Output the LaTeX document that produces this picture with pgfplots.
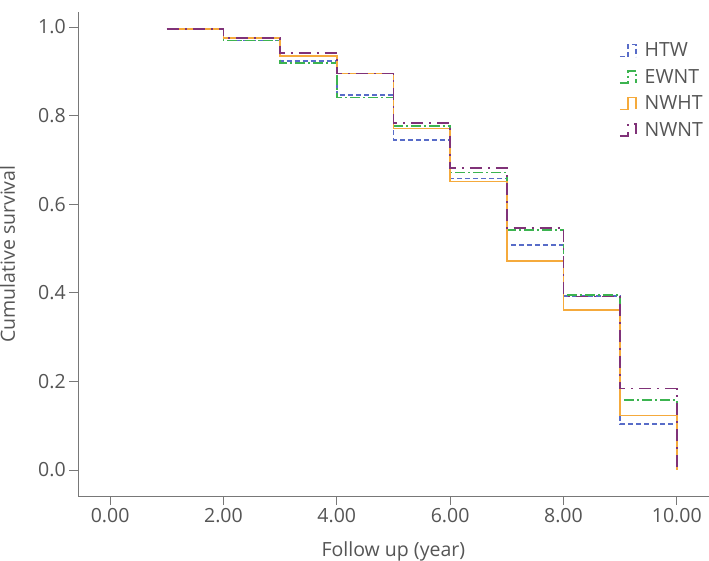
\documentclass[border=0pt]{standalone}
\usepackage{pgfplots}
\pgfplotsset{compat=1.18}
\usepackage{fontspec}
\setmainfont{Open Sans}
\definecolor{cblue}{RGB}{88,108,200}
\definecolor{cgreen}{RGB}{60,180,80}
\definecolor{corange}{RGB}{245,170,60}
\definecolor{cpurple}{RGB}{128,50,120}
\definecolor{axgray}{RGB}{120,120,120}
\definecolor{txtgray}{RGB}{85,85,85}
\begin{document}
\begin{tikzpicture}
\begin{axis}[
  scale only axis,
  width=630pt, height=484pt,
  xmin=-0.563, xmax=10.56,
  ymin=-0.059, ymax=1.034,
  axis lines=left,
  axis line style={axgray, line width=1pt, -},
  xtick={0,2,4,6,8,10},
  ytick={0,0.2,0.4,0.6,0.8,1.0},
  xticklabel style={/pgf/number format/.cd, fixed, fixed zerofill, precision=2},
  yticklabel style={/pgf/number format/.cd, fixed, fixed zerofill, precision=1},
  /pgf/number format/assume math mode=true,
  tick align=outside,
  tick style={axgray, line width=1pt},
  major tick length=9pt,
  ticklabel style={font=\fontsize{19.5}{24}\selectfont, text=txtgray},
  label style={font=\fontsize{19.5}{24}\selectfont, text=txtgray, inner sep=0pt},
  xlabel={Follow up (year)},
  ylabel={Cumulative survival},
  xlabel style={at={(axis description cs:0.5,0)}, anchor=north, yshift=-45pt},
  ylabel style={at={(axis description cs:-0.100,0.5)}, anchor=south, rotate=0},
  legend style={at={(0.853,0.945)}, anchor=north west, draw=none, fill=none,
    font=\fontsize{19.5}{24}\selectfont, text=txtgray, row sep=7pt,
    /tikz/every odd column/.append style={column sep=6pt}},
  legend cell align=left,
  legend image code/.code={\draw[#1] (0pt,-6pt) -- (8pt,-6pt) -- (8pt,6pt) -- (16pt,6pt) -- (16pt,-6pt);},
  const plot,
]
\addplot[cblue, line width=1.6pt, dash pattern=on 5pt off 3pt] coordinates {
(1,0.996) (2,0.970) (3,0.923) (4,0.846) (5,0.745) (6,0.658) (7,0.508) (8,0.393) (9,0.104) (10,0.0)};
\addlegendentry{HTW}
\addplot[cgreen, line width=1.6pt, dash pattern=on 10pt off 3pt on 2pt off 3pt] coordinates {
(1,0.996) (2,0.970) (3,0.919) (4,0.841) (5,0.776) (6,0.672) (7,0.542) (8,0.395) (9,0.158) (10,0.0)};
\addlegendentry{EWNT}
\addplot[corange, line width=1.6pt] coordinates {
(1,0.996) (2,0.975) (3,0.935) (4,0.895) (5,0.771) (6,0.651) (7,0.472) (8,0.361) (9,0.123) (10,0.0)};
\addlegendentry{NWHT}
\addplot[cpurple, line width=1.6pt, dash pattern=on 12pt off 6pt on 2pt off 6pt] coordinates {
(1,0.996) (2,0.975) (3,0.941) (4,0.895) (5,0.784) (6,0.682) (7,0.546) (8,0.392) (9,0.184) (10,0.0)};
\addlegendentry{NWNT}
\end{axis}
\path ([yshift=12pt]current axis.north west);
\end{tikzpicture}
\end{document}
